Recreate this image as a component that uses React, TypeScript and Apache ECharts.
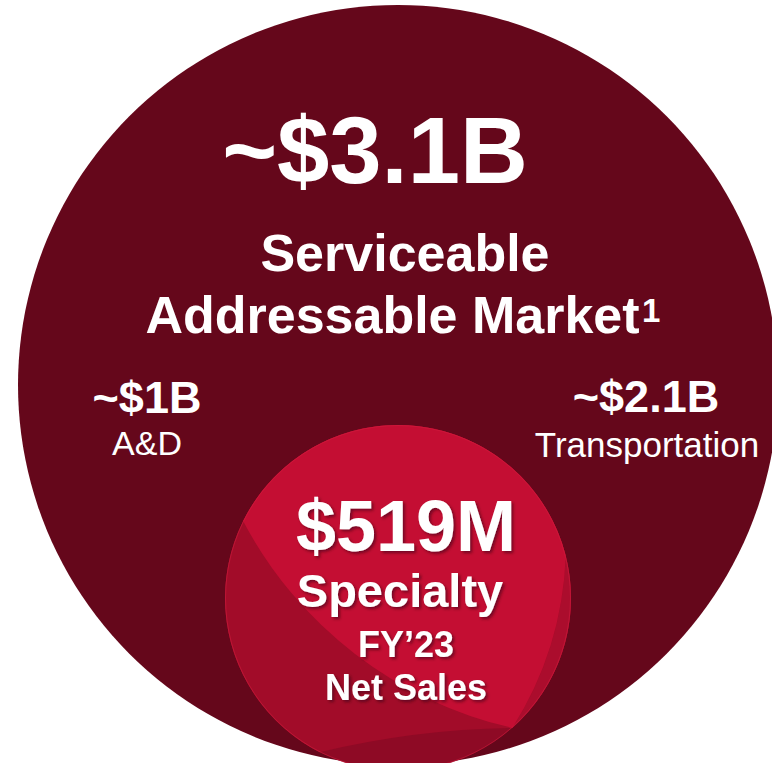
import React, { useEffect, useRef } from "react";
import * as echarts from "echarts";

// ---- content ----
const totalLabel = "~$3.1B";
const titleLines = ["Serviceable", "Addressable Market"];
const footnoteMark = "1";
const segmentValues = ["~$1B", "~$2.1B"];
const segmentNames = ["A&D", "Transportation"];
const specialtyValue = "$519M";
const specialtyLines = ["Specialty", "FY\u201923", "Net Sales"];

// ---- geometry (layout only) ----
type C = { cx: number; cy: number; r: number };
const BIG: C = { cx: 398, cy: 385, r: 380 };
const S: C = { cx: 398, cy: 598, r: 173 };
const T: C = { cx: 597, cy: 322, r: 406 };
const A: C = { cx: 221, cy: 543, r: 345 };

function inter(c1: C, c2: C) {
  const dx = c2.cx - c1.cx, dy = c2.cy - c1.cy;
  const d = Math.hypot(dx, dy);
  const a = (c1.r * c1.r - c2.r * c2.r + d * d) / (2 * d);
  const h = Math.sqrt(Math.max(0, c1.r * c1.r - a * a));
  const bx = c1.cx + (a * dx) / d, by = c1.cy + (a * dy) / d;
  return [
    { x: bx + (h * -dy) / d, y: by + (h * dx) / d },
    { x: bx - (h * -dy) / d, y: by - (h * dx) / d },
  ];
}
const f = (n: number) => n.toFixed(2);

let registered = false;
function registerShapes() {
  if (registered) return;
  registered = true;
  const st = inter(S, T).sort((a, b) => a.x - b.x);
  const p1 = st[0];
  const sa = inter(S, A).sort((a, b) => a.y - b.y);
  const p2 = sa[0];
  const q = sa[1];
  const ang = (117 * Math.PI) / 180;
  const c1 = { x: S.cx + S.r * Math.cos(ang), y: S.cy + S.r * Math.sin(ang) };
  const ctrl = { x: (c1.x + q.x) / 2, y: (c1.y + q.y) / 2 - 11 };

  const bright = `M ${f(p1.x)} ${f(p1.y)} A ${S.r} ${S.r} 0 0 1 ${f(p2.x)} ${f(p2.y)} A ${A.r} ${A.r} 0 0 1 ${f(q.x)} ${f(q.y)} A ${T.r} ${T.r} 0 0 1 ${f(p1.x)} ${f(p1.y)} Z`;
  const upper = `M ${f(c1.x)} ${f(c1.y)} Q ${f(ctrl.x)} ${f(ctrl.y)} ${f(q.x)} ${f(q.y)} A ${S.r} ${S.r} 0 1 0 ${f(c1.x)} ${f(c1.y)} Z`;
  const lens = `M ${f(p2.x)} ${f(p2.y)} A ${A.r} ${A.r} 0 0 1 ${f(q.x)} ${f(q.y)} A ${S.r} ${S.r} 0 0 0 ${f(p2.x)} ${f(p2.y)} Z`;

  echarts.graphic.registerShape("spBright", echarts.graphic.extendPath(bright, {}));
  echarts.graphic.registerShape("spUpper", echarts.graphic.extendPath(upper, {}));
  echarts.graphic.registerShape("spLens", echarts.graphic.extendPath(lens, {}));
}

const FONT = "'Liberation Sans', Arial, Helvetica, sans-serif";

export default function App() {
  const ref = useRef<HTMLDivElement>(null);
  useEffect(() => {
    if (!ref.current) return;
    registerShapes();
    const chart = echarts.init(ref.current, null, { renderer: "svg" });
    const white = "#ffffff";
    const shadow = {
      textShadowColor: "rgba(50,0,10,0.55)",
      textShadowBlur: 3,
      textShadowOffsetX: 2,
      textShadowOffsetY: 2,
    };
    const txt = (
      text: string,
      x: number,
      y: number,
      size: number,
      weight: string,
      extra: any = {},
      align = "center",
      vAlign = "middle"
    ) => ({
      type: "text",
      silent: true,
      style: {
        text,
        x,
        y,
        fill: white,
        font: `${weight} ${size}px ${FONT}`,
        align,
        verticalAlign: vAlign,
        ...extra,
      },
    });

    const option: any = {
      animation: false,
      backgroundColor: "#ffffff",
      graphic: [
        {
          type: "circle",
          silent: true,
          shape: { cx: BIG.cx, cy: BIG.cy, r: BIG.r },
          style: { fill: "#65071B" },
        },
        {
          type: "circle",
          silent: true,
          shape: { cx: S.cx, cy: S.cy, r: S.r },
          style: { fill: "#8E0A25" },
        },
        { type: "spUpper", silent: true, x: 0, y: 0, style: { fill: "#A20C29" } },
        { type: "spLens", silent: true, x: 0, y: 0, style: { fill: "#AB0D2D" } },
        { type: "spBright", silent: true, x: 0, y: 0, style: { fill: "#C40E33" } },
        {
          type: "circle",
          silent: true,
          shape: { cx: S.cx, cy: S.cy, r: S.r - 0.5 },
          style: { fill: "none", stroke: "rgba(214,30,64,0.55)", lineWidth: 1 },
        },
        txt(totalLabel, 375, 150, 94, "bold"),
        txt(titleLines[0], 405, 253, 52, "bold"),
        txt(titleLines[1], 392.5, 315, 52, "bold"),
        txt(footnoteMark, 642, 294, 33, "bold", {}, "left", "top"),
        txt(segmentValues[0], 147, 397, 45, "bold"),
        txt(segmentNames[0], 147, 443, 34, "normal"),
        txt(segmentValues[1], 646, 396, 45, "bold"),
        txt(segmentNames[1], 647, 444, 35, "normal"),
        txt(specialtyValue, 406, 526, 72, "bold", shadow),
        txt(specialtyLines[0], 400, 590, 47, "bold", shadow),
        txt(specialtyLines[1], 406, 644, 36, "bold", shadow),
        txt(specialtyLines[2], 406, 687, 36, "bold", shadow),
      ],
    };
    chart.setOption(option);
    return () => chart.dispose();
  }, []);
  return (
    <div
      ref={ref}
      style={{ position: "fixed", left: 0, top: 0, width: 772, height: 763 }}
    />
  );
}
